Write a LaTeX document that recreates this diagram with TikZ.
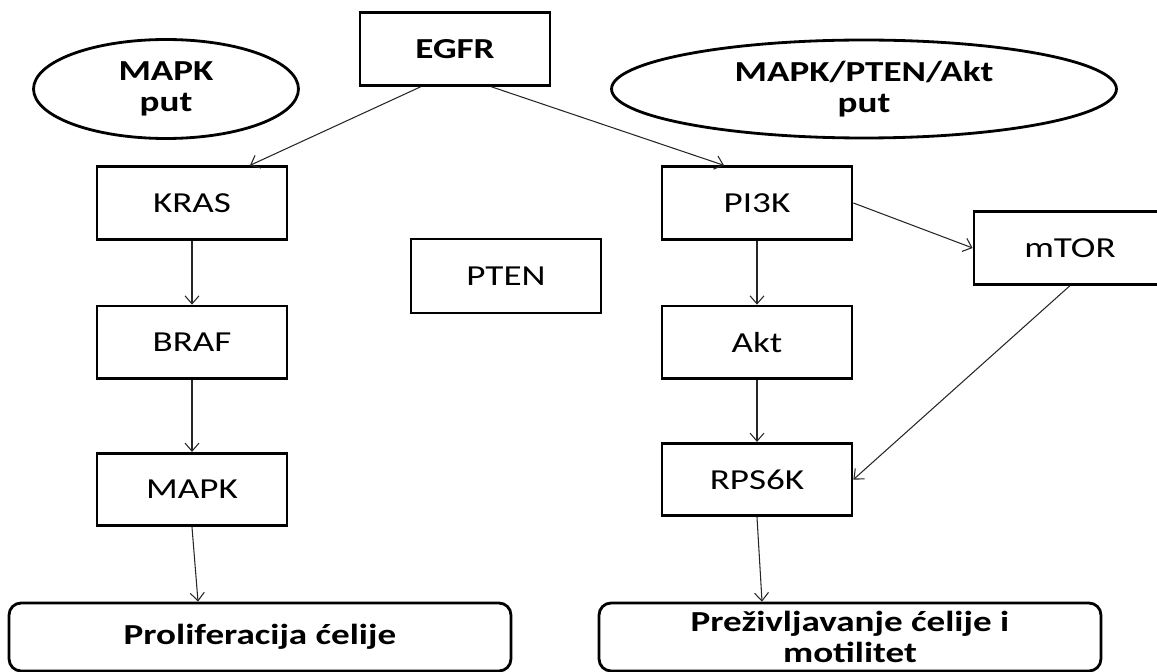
\documentclass[tikz,border=0pt]{standalone}
\usepackage{fontspec}
\setmainfont{Carlito}[FakeStretch=1.28]
\usetikzlibrary{positioning,shapes.geometric,arrows.meta}

\begin{document}
\begin{tikzpicture}[x=0.02cm,y=-0.02cm]
\tikzstyle{gene}=[rectangle, draw=black, line width=1.6pt, minimum width=3.8cm, minimum height=1.45cm, font=\fontsize{16.5}{17.6}\selectfont]
\tikzstyle{route}=[ellipse, draw=black, line width=1.6pt, inner sep=0pt, align=center, font=\fontsize{16.5}{17.6}\selectfont\bfseries]
\tikzstyle{outcome}=[rectangle, rounded corners=0.24cm, draw=black, line width=1.6pt, minimum width=10.04cm, minimum height=1.36cm, align=center, font=\fontsize{16.5}{17.6}\selectfont\bfseries]
\tikzstyle{connect}=[-{Straight Barb[length=0.16cm,width=0.28cm]}, line width=0.6pt, black!85]
  \useasboundingbox (0,0) rectangle (1157,672);
  \clip (0,0) rectangle (1157,672);
  % top
  \node[gene, font=\fontsize{16.5}{17.6}\selectfont\bfseries] (egfr) at (455,49) {EGFR};
  \node[route, minimum width=5.3cm, minimum height=1.98cm] (mapkput) at (166,89) {MAPK\\put};
  \node[route, minimum width=10.1cm, minimum height=1.96cm] (aktput) at (864,89) {MAPK/PTEN/Akt\\put};
  % left column
  \node[gene] (kras) at (192,203) {KRAS};
  \node[gene] (braf) [below=1.28cm of kras] {BRAF};
  \node[gene] (mapk) [below=1.44cm of braf] {MAPK};
  % middle
  \node[gene, minimum height=1.48cm] (pten) at (506,276) {PTEN};
  % right column
  \node[gene] (pi3k) at (757,203) {PI3K};
  \node[gene] (akt) [below=1.28cm of pi3k] {Akt};
  \node[gene] (rps6k) [below=1.24cm of akt] {RPS6K};
  \node[gene, minimum width=3.84cm] (mtor) at (1070,248) {mTOR};
  % bottom
  \node[outcome] (prolif) at (260,637) {Proliferacija ćelije};
  \node[outcome] (surv) at (850,637) {Preživljavanje ćelije i\\motilitet};
  \path[connect] ([xshift=-0.68cm]egfr.south) edge ([xshift=1.16cm]kras.north)
           ([xshift=0.72cm]egfr.south) edge ([xshift=-0.66cm]pi3k.north)
           (kras) edge (braf)
           (braf) edge (mapk)
           (mapk.south) edge ([xshift=-1.24cm]prolif.north)
           (pi3k) edge (akt)
           (akt) edge (rps6k)
           (rps6k.south) edge ([xshift=-1.76cm]surv.north)
           (pi3k.east) edge (mtor.west)
           (mtor.south) edge (rps6k.east)
           ;
\end{tikzpicture}
\end{document}
